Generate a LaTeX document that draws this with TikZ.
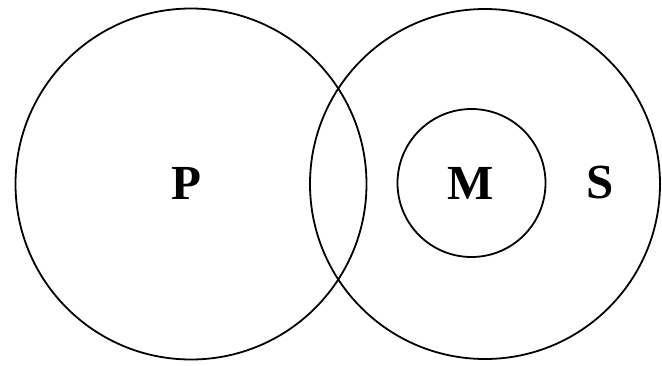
\documentclass[tikz,border=0pt]{standalone}
\usepackage{fontspec}
\setmainfont{Liberation Serif}
\usetikzlibrary{positioning}

\tikzset{
  ring/.style={circle, draw, line width=1.8pt, inner sep=0pt},
  setlabel/.style={font=\fontsize{49}{49}\selectfont\bfseries, inner sep=0pt}
}

\begin{document}
\begin{tikzpicture}[x=1pt,y=-1pt]
    \useasboundingbox (0,0) rectangle (662,365);

    % Sets
    \node[ring, minimum size=351pt] (P) at (191,184) {};
    \node[ring, minimum size=350pt] (S) at (485,184) {};
    \node[ring, minimum size=148pt] (M) at (471.5,183) {};

    % Labels
    \node[setlabel] (Plabel) at (186,183) {P};
    \node[setlabel] (Mlabel) at (471,183) {M};
    \node[setlabel] (Slabel) at (600,183) {S};
\end{tikzpicture}
\end{document}
